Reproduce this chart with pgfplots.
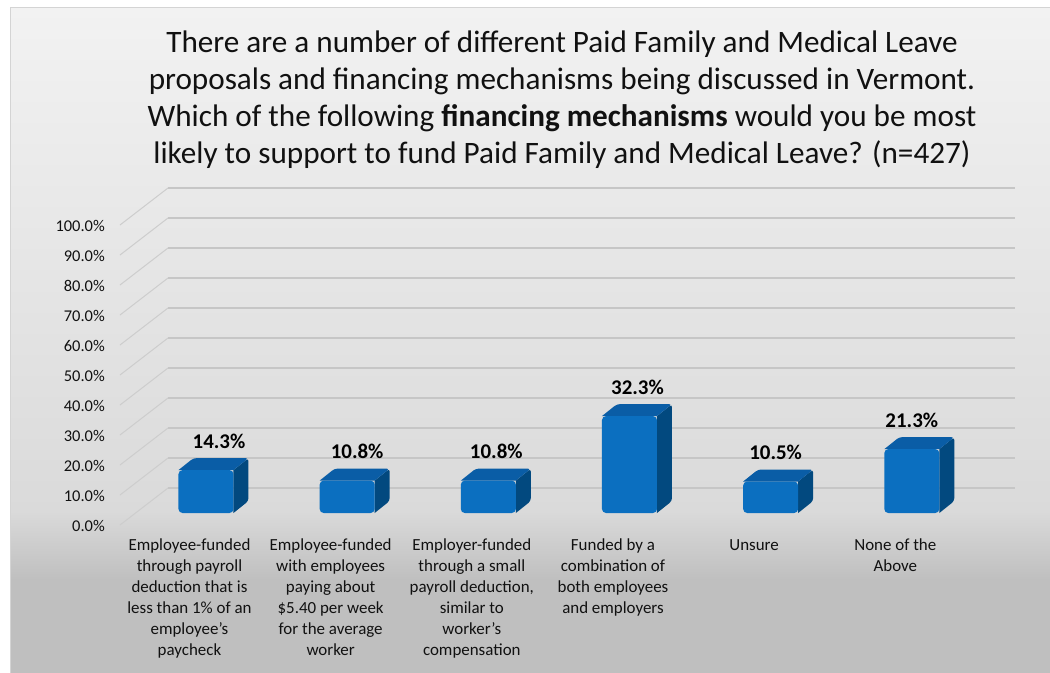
\documentclass[border=0pt]{standalone}
\usepackage{fontspec}
\setmainfont{Carlito}
\usepackage{pgfplots}
\pgfplotsset{compat=1.18}
\definecolor{barfront}{HTML}{0B6FC0}
\definecolor{bartop}{HTML}{0A5DA6}
\definecolor{barside}{HTML}{02497F}
\definecolor{bgA}{HTML}{F2F2F2}
\definecolor{bgB}{HTML}{DADADA}
\definecolor{bgC}{HTML}{BFBFBF}
\definecolor{gridcol}{HTML}{C6C6C6}
\definecolor{diagcol}{HTML}{CDCDCD}
\definecolor{framecol}{HTML}{D4D4D4}
\definecolor{labcol}{HTML}{111111}
\begin{document}
\begin{tikzpicture}
\useasboundingbox (0bp,0bp) rectangle (1050bp,-673bp);
\fill[white] (0bp,0bp) rectangle (1050bp,-673bp);
\shade[top color=bgA,bottom color=bgB] (10bp,-7bp) rectangle (1050bp,-512bp);
\shade[top color=bgB,bottom color=bgC] (10bp,-511bp) rectangle (1050bp,-580bp);
\fill[bgC] (10bp,-579bp) rectangle (1050bp,-673bp);
\draw[framecol,line width=1bp] (10bp,-673bp) -- (10bp,-7bp) -- (1050bp,-7bp);
% title
\begin{scope}[every node/.style={anchor=base,inner sep=0pt,font=\fontsize{31.3}{37}\selectfont,text=labcol}]
\node at (562bp,-52bp) {There are a number of different Paid Family and Medical Leave};
\node at (562bp,-89bp) {proposals and financing mechanisms being discussed in Vermont.};
\node at (562bp,-126bp) {Which of the following \textbf{financing mechanisms} would you be most};
\node at (562bp,-163bp) {likely to support to fund Paid Family and Medical Leave? (n=427)};
\end{scope}
% back wall
\begin{axis}[at={(168bp,-488bp)}, anchor=south west, scale only axis,
  width=847bp, height=300bp, xmin=-0.5, xmax=5.5, ymin=0, ymax=100,
  ytick={0,10,...,100}, xtick=\empty, ymajorgrids,
  grid style={gridcol, line width=1.2bp},
  axis line style={draw=none}, major tick style={draw=none},
  /pgf/number format/assume math mode=true,
  yticklabel={\pgfmathprintnumber[fixed,fixed zerofill,precision=1]{\tick}\%},
  yticklabel style={font=\fontsize{16.5}{19}\selectfont, text=labcol, anchor=east,
    inner sep=0pt, xshift=-63bp, yshift=-38bp},
  clip=false]
\pgfplotsinvokeforeach{0,10,20,30,40,50,60,70,80,90,100}{
  \draw[diagcol, line width=1bp] (axis cs:-0.5,#1) -- ++(-48bp,-37bp);
}
\end{axis}
% bars plane
\begin{axis}[at={(135.4bp,-513bp)}, anchor=south west, scale only axis,
  width=847bp, height=300bp, xmin=-0.5, xmax=5.5, ymin=0, ymax=100,
  ytick=\empty, xtick={0,1,2,3,4,5},
  xticklabels={{Employee-funded\\through payroll\\deduction that is\\less than 1\% of an\\employee’s\\paycheck},
    {Employee-funded\\with employees\\paying about\\\$5.40 per week\\for the average\\worker},
    {Employer-funded\\through a small\\payroll deduction,\\similar to\\worker’s\\compensation},
    {Funded by a\\combination of\\both employees\\and employers},
    {Unsure},
    {None of the\\Above}},
  xticklabel style={font=\fontsize{17}{21}\selectfont, align=center, anchor=north,
    inner sep=0pt, xshift=-16.5bp, yshift=-26bp, text=labcol},
  axis line style={draw=none}, major tick style={draw=none},
  /pgf/number format/assume math mode=true,
  clip=false]
% side faces
\addplot[fill=barside, draw=none, rounded corners=3bp] coordinates {(0.1948,0) (0.3011,4) (0.3011,18.3) (0.1948,14.3)};
\addplot[fill=barside, draw=none, rounded corners=3bp] coordinates {(1.1948,0) (1.3011,4) (1.3011,14.8) (1.1948,10.8)};
\addplot[fill=barside, draw=none, rounded corners=3bp] coordinates {(2.1948,0) (2.3011,4) (2.3011,14.8) (2.1948,10.8)};
\addplot[fill=barside, draw=none, rounded corners=3bp] coordinates {(3.1948,0) (3.3011,4) (3.3011,36.3) (3.1948,32.3)};
\addplot[fill=barside, draw=none, rounded corners=3bp] coordinates {(4.1948,0) (4.3011,4) (4.3011,14.5) (4.1948,10.5)};
\addplot[fill=barside, draw=none, rounded corners=3bp] coordinates {(5.1948,0) (5.3011,4) (5.3011,25.3) (5.1948,21.3)};
% top faces
\addplot[fill=bartop, draw=none, rounded corners=3bp] coordinates {(-0.1948,14.3) (-0.0885,18.3) (0.3011,18.3) (0.1948,14.3)};
\addplot[fill=bartop, draw=none, rounded corners=3bp] coordinates {(0.8052,10.8) (0.9115,14.8) (1.3011,14.8) (1.1948,10.8)};
\addplot[fill=bartop, draw=none, rounded corners=3bp] coordinates {(1.8052,10.8) (1.9115,14.8) (2.3011,14.8) (2.1948,10.8)};
\addplot[fill=bartop, draw=none, rounded corners=3bp] coordinates {(2.8052,32.3) (2.9115,36.3) (3.3011,36.3) (3.1948,32.3)};
\addplot[fill=bartop, draw=none, rounded corners=3bp] coordinates {(3.8052,10.5) (3.9115,14.5) (4.3011,14.5) (4.1948,10.5)};
\addplot[fill=bartop, draw=none, rounded corners=3bp] coordinates {(4.8052,21.3) (4.9115,25.3) (5.3011,25.3) (5.1948,21.3)};
% front faces
\addplot[ybar, bar width=55bp, fill=barfront, draw=none, rounded corners=4bp,
  nodes near coords={\pgfmathprintnumber[fixed,fixed zerofill,precision=1]{\pgfplotspointmeta}\%},
  visualization depends on={\thisrow{lx} \as \lx},
  every node near coord/.append style={font=\fontsize{21}{24}\bfseries, text=black,
    anchor=base, inner sep=0pt, yshift=22bp, xshift=\lx bp, rounded corners=0pt}]
  table[row sep=\\] {x y lx\\ 0 14.3 13\\ 1 10.8 10\\ 2 10.8 8\\ 3 32.3 8\\ 4 10.5 5\\ 5 21.3 0\\};
\end{axis}
\end{tikzpicture}
\end{document}
